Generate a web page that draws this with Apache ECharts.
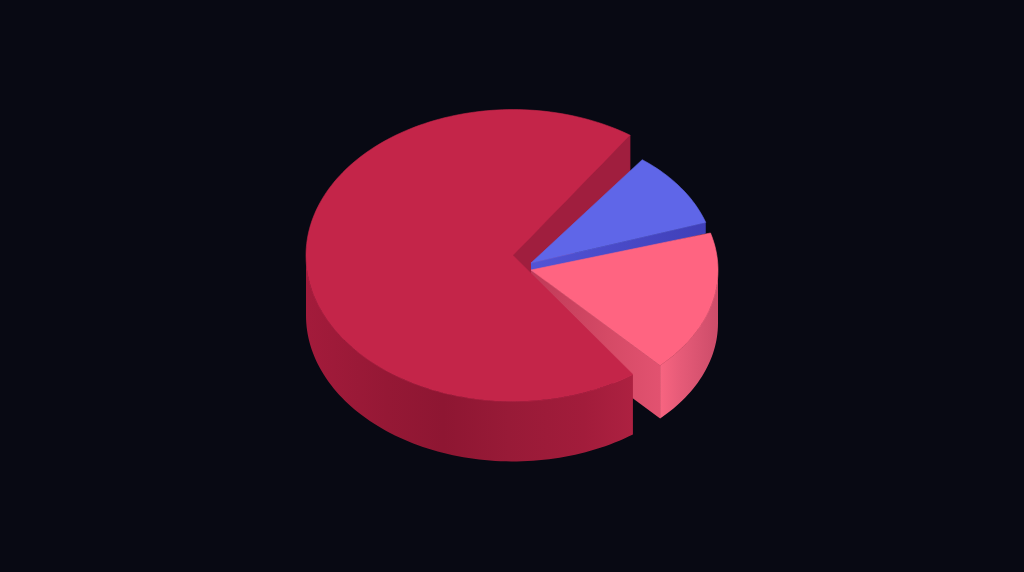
<!DOCTYPE html>
<html>
<head>
<meta charset="utf-8">
<style>html,body{margin:0;padding:0;background:#080913}#c{width:1024px;height:572px}</style>
<script src="https://cdn.jsdelivr.net/npm/echarts@6/dist/echarts.min.js"></script>
</head>
<body>
<div id="c"></div>
<script>
// Data: each slice's share of the full circle, in percent.
var categories = ['Slice A', 'Slice B', 'Slice C'];
var shares = [69.4, 9.6, 17.4];

// Layout and style, kept apart from the data.
var SQUASH = 0.705;
function hGrad(stops) {
  return {type: 'linear', x: 0, y: 0, x2: 1, y2: 0,
    colorStops: stops.map(function (s) { return {offset: s[0], color: s[1]}; })};
}
var sliceLook = [
  {cx: 513, cy: 255.5, r: 207, depth: 60, startDeg: 54.6, layer: 20,
   wallLayer: 1,
   top: '#c42549',
   side: hGrad([[0, '#a31b3b'], [0.25, '#951835'], [0.42, '#8e1632'], [0.62, '#981a37'], [0.85, '#a21c3b'], [1, '#ad2141']]),
   wall: '#a01e3e'},
  {cx: 531, cy: 263, r: 184, depth: 11, startDeg: -52.8, layer: 5,
   top: '#5f66e8',
   side: '#4a4cc8',
   wall: hGrad([[0, '#5254d6'], [1, '#3f3fb8']])},
  {cx: 531, cy: 270, r: 187, depth: 53, startDeg: -16.3, layer: 10,
   top: '#ff6481',
   side: hGrad([[0, '#f86581'], [0.35, '#e65b78'], [1, '#cc4c69']]),
   wall: hGrad([[0, '#c03a58'], [0.6, '#d54a66'], [1, '#e25270']])}
];

function renderSlice(params, api) {
  var i = api.value(0);
  var look = sliceLook[i];
  var a0 = look.startDeg;
  var a1 = a0 + api.value(1) * 3.6;
  function pt(deg, down) {
    var t = deg * Math.PI / 180;
    return [look.cx + look.r * Math.cos(t),
            look.cy + look.r * SQUASH * Math.sin(t) + (down || 0)];
  }
  function arc(from, to, down) {
    var n = Math.max(2, Math.ceil(Math.abs(to - from) / 1.5));
    var out = [];
    for (var k = 0; k <= n; k++) out.push(pt(from + (to - from) * k / n, down));
    return out;
  }
  function poly(points, fill, z2) {
    var solid = typeof fill === 'string';
    return {
      type: 'polygon', z2: z2, silent: true,
      shape: {points: points},
      style: {fill: fill, stroke: solid ? fill : null, lineWidth: solid ? 0.6 : 0}
    };
  }
  var apex = [look.cx, look.cy];
  var apexDown = [look.cx, look.cy + look.depth];
  var children = [];
  var wallZ = look.wallLayer || look.layer;
  // radial wall at the far end of the slice
  children.push(poly([apex, pt(a1), pt(a1, look.depth), apexDown], look.wall, wallZ));
  // outer rim: only the part facing the viewer
  var f0 = Math.max(a0, 0), f1 = Math.min(a1, 180);
  if (f1 > f0) {
    var rim = arc(f0, f1, 0).concat(arc(f1, f0, look.depth));
    children.push(poly(rim, look.side, look.layer + 1));
  }
  // top face
  children.push(poly([apex].concat(arc(a0, a1, 0)), look.top, look.layer + 2));
  return {type: 'group', children: children};
}

var chart = echarts.init(document.getElementById('c'), null, {renderer: 'canvas'});
chart.setOption({
  animation: false,
  backgroundColor: '#080913',
  series: [{
    type: 'custom',
    coordinateSystem: 'none',
    renderItem: renderSlice,
    encode: {itemName: 2},
    data: categories.map(function (name, i) { return [i, shares[i], name]; })
  }]
});
</script>
</body>
</html>
